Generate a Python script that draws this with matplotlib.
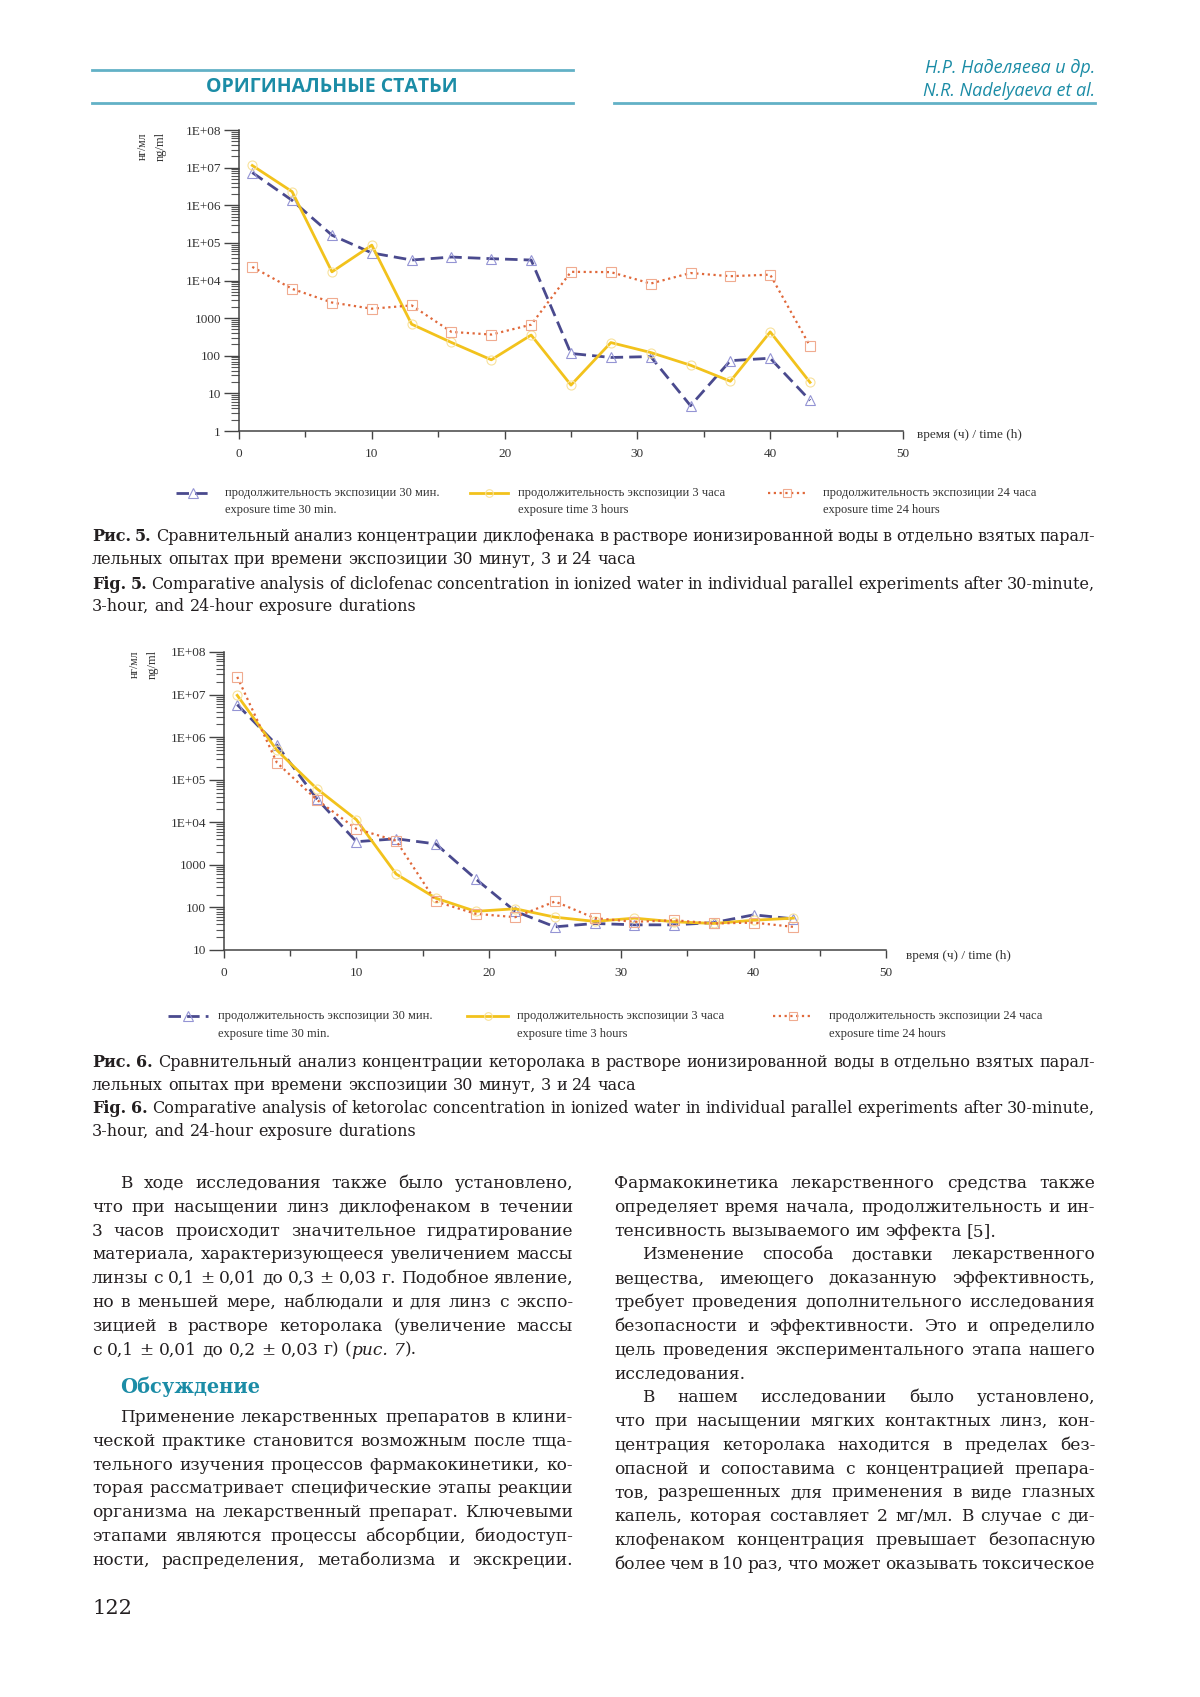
import numpy as np
import matplotlib
matplotlib.use("Agg")
import matplotlib.pyplot as plt
from matplotlib.lines import Line2D
from matplotlib.ticker import LogLocator, FuncFormatter, MultipleLocator, NullFormatter

# ---- data (ng/ml vs hours) ----
hours = [1, 4, 7, 10, 13, 16, 19, 22, 25, 28, 31, 34, 37, 40, 43]

diclofenac_30min = [7.4e6, 1.35e6, 1.6e5, 5.4e4, 3.5e4, 4.2e4, 3.8e4, 3.5e4, 115, 90, 95, 4.7, 74, 86, 6.5]
diclofenac_3h = [1.14e7, 2.3e6, 1.7e4, 8.7e4, 690, 225, 78, 355, 16.6, 224, 122, 56, 21, 430, 19.6]
diclofenac_24h = [2.3e4, 6000, 2600, 1780, 2180, 430, 366, 670, 1.7e4, 1.67e4, 8300, 1.58e4, 1.3e4, 1.43e4, 180]

ketorolac_30min = [5.8e6, 6.5e5, 3.6e4, 3500, 4100, 3100, 470, 81, 35, 42, 39, 39, 44, 67, 54]
ketorolac_3h = [9.6e6, 4.9e5, 6.2e4, 1.15e4, 610, 165, 81, 93, 59, 47, 56, 46, 42, 50, 56]
ketorolac_24h = [2.6e7, 2.5e5, 3.4e4, 7000, 3700, 138, 71, 59, 138, 56, 46, 50, 42, 44, 35]

legend_ru = ["продолжительность экспозиции 30 мин.",
             "продолжительность экспозиции 3 часа",
             "продолжительность экспозиции 24 часа"]
legend_en = ["exposure time 30 min.", "exposure time 3 hours", "exposure time 24 hours"]
xlabel = "время (ч) / time (h)"

caption5 = [("*Рис. 5.* Сравнительный анализ концентрации диклофенака в растворе ионизированной воды в отдельно взятых парал-", True),
            ("лельных опытах при времени экспозиции 30 минут, 3 и 24 часа", False),
            ("*Fig. 5.* Comparative analysis of diclofenac concentration in ionized water in individual parallel experiments after 30-minute,", True),
            ("3-hour, and 24-hour exposure durations", False)]
caption6 = [("*Рис. 6.* Сравнительный анализ концентрации кеторолака в растворе ионизированной воды в отдельно взятых парал-", True),
            ("лельных опытах при времени экспозиции 30 минут, 3 и 24 часа", False),
            ("*Fig. 6.* Comparative analysis of ketorolac concentration in ionized water in individual parallel experiments after 30-minute,", True),
            ("3-hour, and 24-hour exposure durations", False)]

# (text, indent, justify)
left_top = [("В ходе исследования также было установлено,", True, True),
            ("что при насыщении линз диклофенаком в течении", False, True),
            ("3 часов происходит значительное гидратирование", False, True),
            ("материала, характеризующееся увеличением массы", False, True),
            ("линзы с 0,1 ± 0,01 до 0,3 ± 0,03 г. Подобное явление,", False, True),
            ("но в меньшей мере, наблюдали и для линз с экспо-", False, True),
            ("зицией в растворе кеторолака (увеличение массы", False, True),
            ("с 0,1 ± 0,01 до 0,2 ± 0,03 г) (_рис. 7_).", False, False)]
heading = "Обсуждение"
left_bottom = [("Применение лекарственных препаратов в клини-", True, True),
               ("ческой практике становится возможным после тща-", False, True),
               ("тельного изучения процессов фармакокинетики, ко-", False, True),
               ("торая рассматривает специфические этапы реакции", False, True),
               ("организма на лекарственный препарат. Ключевыми", False, True),
               ("этапами являются процессы абсорбции, биодоступ-", False, True),
               ("ности, распределения, метаболизма и экскреции.", False, True)]
right_col = [("Фармакокинетика лекарственного средства также", False, True),
             ("определяет время начала, продолжительность и ин-", False, True),
             ("тенсивность вызываемого им эффекта [5].", False, False),
             ("Изменение способа доставки лекарственного", True, True),
             ("вещества, имеющего доказанную эффективность,", False, True),
             ("требует проведения дополнительного исследования", False, True),
             ("безопасности и эффективности. Это и определило", False, True),
             ("цель проведения экспериментального этапа нашего", False, True),
             ("исследования.", False, False),
             ("В нашем исследовании было установлено,", True, True),
             ("что при насыщении мягких контактных линз, кон-", False, True),
             ("центрация кеторолака находится в пределах без-", False, True),
             ("опасной и сопоставима с концентрацией препара-", False, True),
             ("тов, разрешенных для применения в виде глазных", False, True),
             ("капель, которая составляет 2 мг/мл. В случае с ди-", False, True),
             ("клофенаком концентрация превышает безопасную", False, True),
             ("более чем в 10 раз, что может оказывать токсическое", False, True)]

W, H = 1200, 1697
TEAL = '#1b8ca6'
INK = '#231f20'
plt.rcParams['font.family'] = ['Liberation Serif', 'DejaVu Serif']

fig = plt.figure(figsize=(W / 100, H / 100), dpi=100)
fig.patch.set_facecolor('white')
renderer = fig.canvas.get_renderer()


def fx(x):
    return x / W


def fy(y):
    return 1 - y / H


def seg_props(style, size):
    kw = dict(fontsize=size, family='DejaVu Serif')
    if style == 'b':
        kw['weight'] = 'bold'
    if style == 'i':
        kw['style'] = 'italic'
    return kw


def width_of(s, style, size):
    t = fig.text(0, 0, s, **seg_props(style, size))
    w = t.get_window_extent(renderer).width
    t.remove()
    return w


def parse(line):
    # '*' toggles bold, '_' toggles italic; returns words as lists of (text, style)
    words, cur, seg, style = [], [], '', 'r'
    for ch in line:
        if ch in '*_':
            if seg:
                cur.append((seg, style))
                seg = ''
            new = 'b' if ch == '*' else 'i'
            style = 'r' if style == new else new
        elif ch == ' ':
            if seg:
                cur.append((seg, style))
                seg = ''
            if cur:
                words.append(cur)
                cur = []
        else:
            seg += ch
    if seg:
        cur.append((seg, style))
    if cur:
        words.append(cur)
    return words


def word_width(word, size):
    return sum(width_of(s, st, size) for s, st in word)


def fit_size(lines, avail, base=10.0, squeeze=0.75):
    sp = width_of('н н', 'r', base) - width_of('нн', 'r', base)
    ratio = 99
    for text, indent, just in lines:
        if not just:
            continue
        words = parse(text)
        nat = sum(word_width(w, base) for w in words) + squeeze * sp * (len(words) - 1)
        ratio = min(ratio, (avail - indent) / nat)
    return base * ratio


def put_line(text, x0, x1, y, size, justify, color=INK):
    words = parse(text)
    widths = [word_width(w, size) for w in words]
    sp = width_of('н н', 'r', size) - width_of('нн', 'r', size)
    if justify and len(words) > 1:
        gap = (x1 - x0 - sum(widths)) / (len(words) - 1)
    else:
        gap = sp
    x = x0
    for w, ww in zip(words, widths):
        xs = x
        for s, st in w:
            fig.text(fx(xs), fy(y), s, ha='left', va='baseline', color=color, **seg_props(st, size))
            xs += width_of(s, st, size)
        x += ww + gap


# ---- header ----
for (a, b) in [(92, 573), (614, 1095)]:
    fig.add_artist(Line2D([fx(a), fx(b)], [fy(103), fy(103)], transform=fig.transFigure,
                          color='#62b1c6', lw=2))
fig.add_artist(Line2D([fx(92), fx(573)], [fy(70), fy(70)], transform=fig.transFigure,
                      color='#62b1c6', lw=2))
fig.text(fx(332), fy(87), "ОРИГИНАЛЬНЫЕ СТАТЬИ", ha='center', va='center', color=TEAL,
         fontsize=14, weight='bold', family=['Liberation Sans Narrow', 'Open Sans'])
fig.text(fx(1095), fy(68), "Н.Р. Наделяева и др.", ha='right', va='center', color=TEAL,
         fontsize=13, style='italic', family=['Liberation Sans Narrow', 'Open Sans'])
fig.text(fx(1095), fy(91), "N.R. Nadelyaeva et al.", ha='right', va='center', color=TEAL,
         fontsize=13, style='italic', family=['Liberation Sans Narrow', 'Open Sans'])


# ---- charts ----
BLUE = dict(color='#4a4a8e', lw=2, ls=(0, (4.5, 2.2)), marker='^', ms=7.5, mfc='none', mec='#9494d4', mew=0.8)
YELLOW = dict(color='#f2c21c', lw=2, ls='-', marker='o', ms=6.5, mfc='none', mec='#f8e29c', mew=0.8)
ORANGE = dict(color='#e0683a', lw=1.6, ls=(0, (1, 1.6)), marker='s', ms=6.5, mfc='none', mec='#f0ab90', mew=0.8)
STYLES = [BLUE, YELLOW, ORANGE]


def ylab(v, pos):
    k = int(round(np.log10(v)))
    return str(10 ** k) if k < 4 else '1E+%02d' % k


def style_axes(ax, ymin):
    ax.set_yscale('log')
    ax.set_xlim(0, 50)
    ax.set_ylim(ymin, 1e8)
    ax.patch.set_alpha(0)
    for s in ('top', 'right'):
        ax.spines[s].set_visible(False)
    for s in ('left', 'bottom'):
        ax.spines[s].set_color('#444444')
        ax.spines[s].set_linewidth(1.1)
    ax.xaxis.set_major_locator(MultipleLocator(10))
    ax.xaxis.set_minor_locator(MultipleLocator(5))
    ax.yaxis.set_major_locator(LogLocator(base=10, numticks=20))
    ax.yaxis.set_minor_locator(LogLocator(base=10, subs=np.arange(2, 10), numticks=20))
    ax.yaxis.set_minor_formatter(NullFormatter())
    ax.yaxis.set_major_formatter(FuncFormatter(ylab))
    ax.tick_params(axis='y', which='major', length=11, width=1, pad=2, labelsize=9.5,
                   color='#444444', labelcolor='#333333')
    ax.tick_params(axis='y', which='minor', length=5.5, width=0.8, color='#555555')
    ax.tick_params(axis='x', which='major', length=6, width=1, pad=6, labelsize=9.5,
                   color='#444444', labelcolor='#333333')
    ax.tick_params(axis='x', which='minor', length=4.5, width=1, color='#444444')


def legend_row(y1, y2, hx, tx):
    for i, st in enumerate(STYLES):
        kw = {k: v for k, v in st.items() if k in ('color', 'lw', 'ls')}
        fig.add_artist(Line2D([fx(hx[i][0]), fx(hx[i][1])], [fy(y1), fy(y1)],
                              transform=fig.transFigure, **kw))
        fig.add_artist(Line2D([fx((hx[i][0] + hx[i][1]) / 2)], [fy(y1)], transform=fig.transFigure,
                              ls='none', marker=st['marker'], ms=st['ms'] - 1, mfc='none',
                              mec=st['mec'], mew=0.8))
        fig.text(fx(tx[i]), fy(y1), legend_ru[i], ha='left', va='center', fontsize=9, color='#333333')
        fig.text(fx(tx[i]), fy(y2), legend_en[i], ha='left', va='center', fontsize=9, color='#333333')


def ylabel(x1, x2, y):
    fig.text(fx(x1), fy(y), "нг/мл", rotation=90, ha='center', va='center', fontsize=8.5, color='#333333')
    fig.text(fx(x2), fy(y), "ng/ml", rotation=90, ha='center', va='center', fontsize=9, color='#333333')


ax1 = fig.add_axes([fx(239), fy(431), (903 - 239) / W, (431 - 130) / H])
style_axes(ax1, 1)
for vals, st in zip([diclofenac_30min, diclofenac_3h, diclofenac_24h], STYLES):
    ax1.plot(hours, vals, **st)
fig.text(fx(917), fy(435), xlabel, ha='left', va='center', fontsize=9.5, color='#333333')
ylabel(143, 161, 146)
legend_row(493, 510, [(176, 209), (470, 508), (768, 806)], [225, 518, 823])

ax2 = fig.add_axes([fx(224), fy(950), (886 - 224) / W, (950 - 652) / H])
style_axes(ax2, 10)
for vals, st in zip([ketorolac_30min, ketorolac_3h, ketorolac_24h], STYLES):
    ax2.plot(hours, vals, **st)
fig.text(fx(906), fy(956), xlabel, ha='left', va='center', fontsize=9.5, color='#333333')
ylabel(135, 153, 664)
legend_row(1016, 1034, [(168, 208), (467, 508), (773, 813)], [218, 517, 829])

# ---- captions ----
cap_lines = [(t, False, j) for t, j in caption5]
cap_size = fit_size(cap_lines, 1095 - 92, squeeze=0.8)
for (t, j), y in zip(caption5, [536, 559, 584, 606]):
    put_line(t, 92, 1095, y + 5, cap_size, j)
for (t, j), y in zip(caption6, [1062, 1085, 1108, 1131]):
    put_line(t, 92, 1095, y + 5, cap_size, j)

# ---- body text ----
COLW = 573 - 92
IND = 28
body_size = min(fit_size(left_top + left_bottom, COLW), fit_size(right_col, COLW))
body_size = min(body_size, 12.5)
step = 23.8
for i, (t, ind, j) in enumerate(left_top):
    put_line(t, 92 + (IND if ind else 0), 573, 1183 + i * step + 5, body_size, j)
fig.text(fx(120), fy(1387 + 6), heading, ha='left', va='baseline', color=TEAL,
         fontsize=body_size * 1.15, weight='bold', family='DejaVu Serif')
for i, (t, ind, j) in enumerate(left_bottom):
    put_line(t, 92 + (IND if ind else 0), 573, 1417 + i * step + 5, body_size, j)
for i, (t, ind, j) in enumerate(right_col):
    put_line(t, 614 + (IND if ind else 0), 1095, 1183 + i * step + 5, body_size, j)

fig.text(fx(92), fy(1609), "122", ha='left', va='center', fontsize=15, color=INK, family='DejaVu Serif')

fig.savefig('out.png', dpi=100, facecolor='white')
